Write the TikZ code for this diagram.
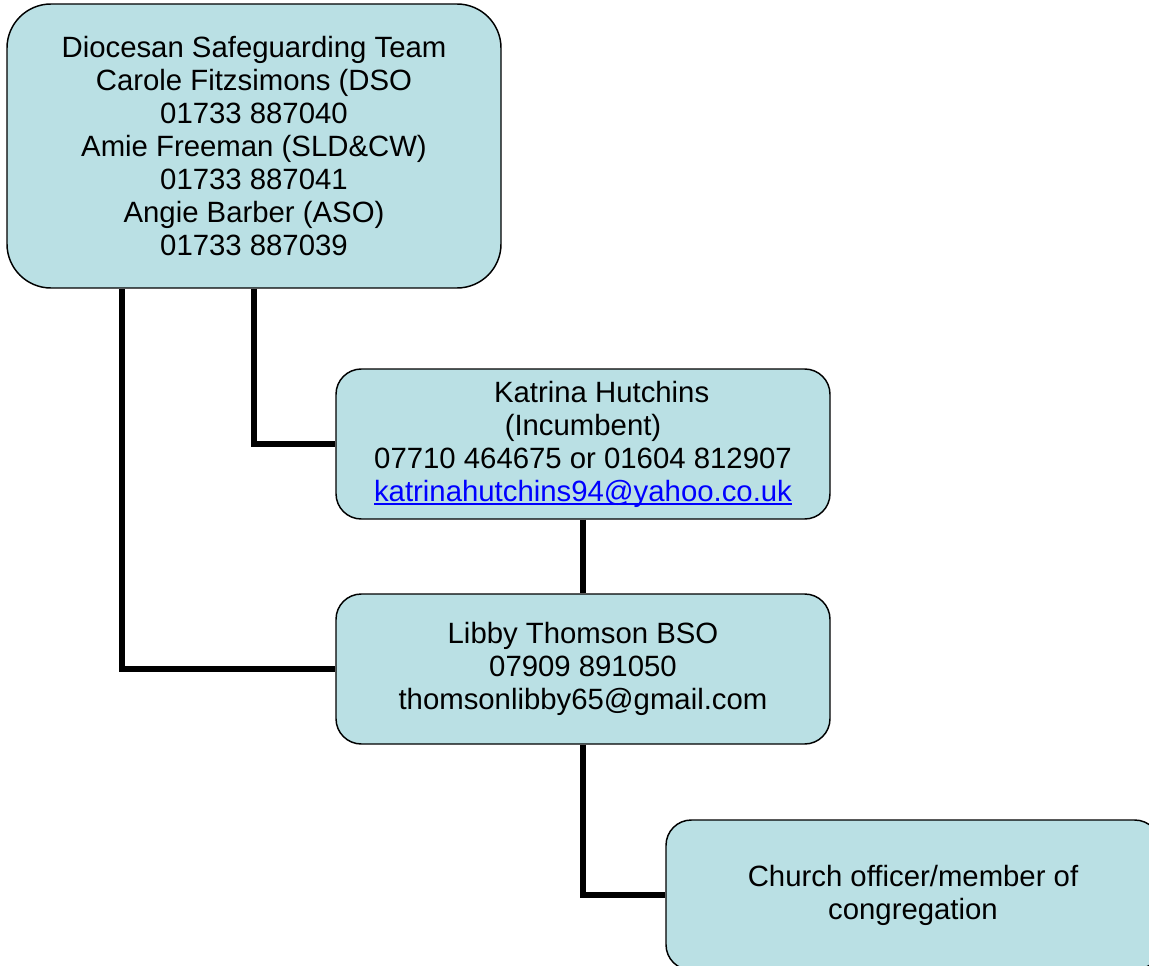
\documentclass[tikz,border=0pt]{standalone}
\usepackage{fontspec}
\setmainfont{Liberation Sans}
\definecolor{boxfill}{RGB}{186,224,228}
\definecolor{linkblue}{RGB}{0,0,255}
\tikzset{every picture/.style={line width=0.75pt}}
\tikzset{
  teambox/.style={draw, fill=boxfill, line width=1.1pt, rounded corners=33pt, align=center,
    minimum width=370.5pt, minimum height=213pt, inner sep=0pt,
    font=\fontsize{22}{24.75}\selectfont},
  officebox/.style={draw, fill=boxfill, line width=1.1pt, rounded corners=19pt, align=center,
    minimum width=370.5pt, minimum height=112.5pt, inner sep=0pt,
    font=\fontsize{22}{24.75}\selectfont},
  link/.style={line width=4.4pt}
}
\newsavebox{\mailbox}
\newcommand{\maillink}[1]{\textcolor{linkblue}{\sbox{\mailbox}{#1}\rlap{\raisebox{-3pt}{\rule{\wd\mailbox}{1.4pt}}}\usebox{\mailbox}}}
\begin{document}
\begin{tikzpicture}[x=0.75pt,y=0.75pt,yscale=-1,xscale=1]
	\useasboundingbox (0,0) rectangle (1149,966);
	\clip (0,0) rectangle (1149,966);

	%Shape: Rounded Rect [id:team] 
	\node[teambox] (team) at (254,146) {Diocesan Safeguarding Team\\Carole Fitzsimons (DSO\\01733 887040\\Amie Freeman (SLD\&CW)\\01733 887041\\Angie Barber (ASO)\\01733 887039};
	%Shape: Rounded Rect [id:incumbent] 
	\node[officebox] (incumbent) at (583,444) {\hspace*{28pt}Katrina Hutchins\\(Incumbent)\\07710 464675 or 01604 812907\\\maillink{katrinahutchins94@yahoo.co.uk}};
	%Shape: Rounded Rect [id:bso] 
	\node[officebox] (bso) at (583,669) {Libby Thomson BSO\\07909 891050\\thomsonlibby65@gmail.com};
	%Shape: Rounded Rect [id:member] 
	\node[officebox] (member) at (913,895) {Church officer/member of\\congregation};

	%Straight Lines [id:tap] 
	\coordinate (tap) at (122,289);
	\draw[link] (tap) |- (bso.west);
	%Straight Lines [id:toincumbent] 
	\draw[link] (team.south) |- (incumbent.west);
	%Straight Lines [id:tobso] 
	\draw[link] (incumbent.south) -- (bso.north);
	%Straight Lines [id:tomember] 
	\draw[link] (bso.south) |- (member.west);

	\end{tikzpicture}
\end{document}
